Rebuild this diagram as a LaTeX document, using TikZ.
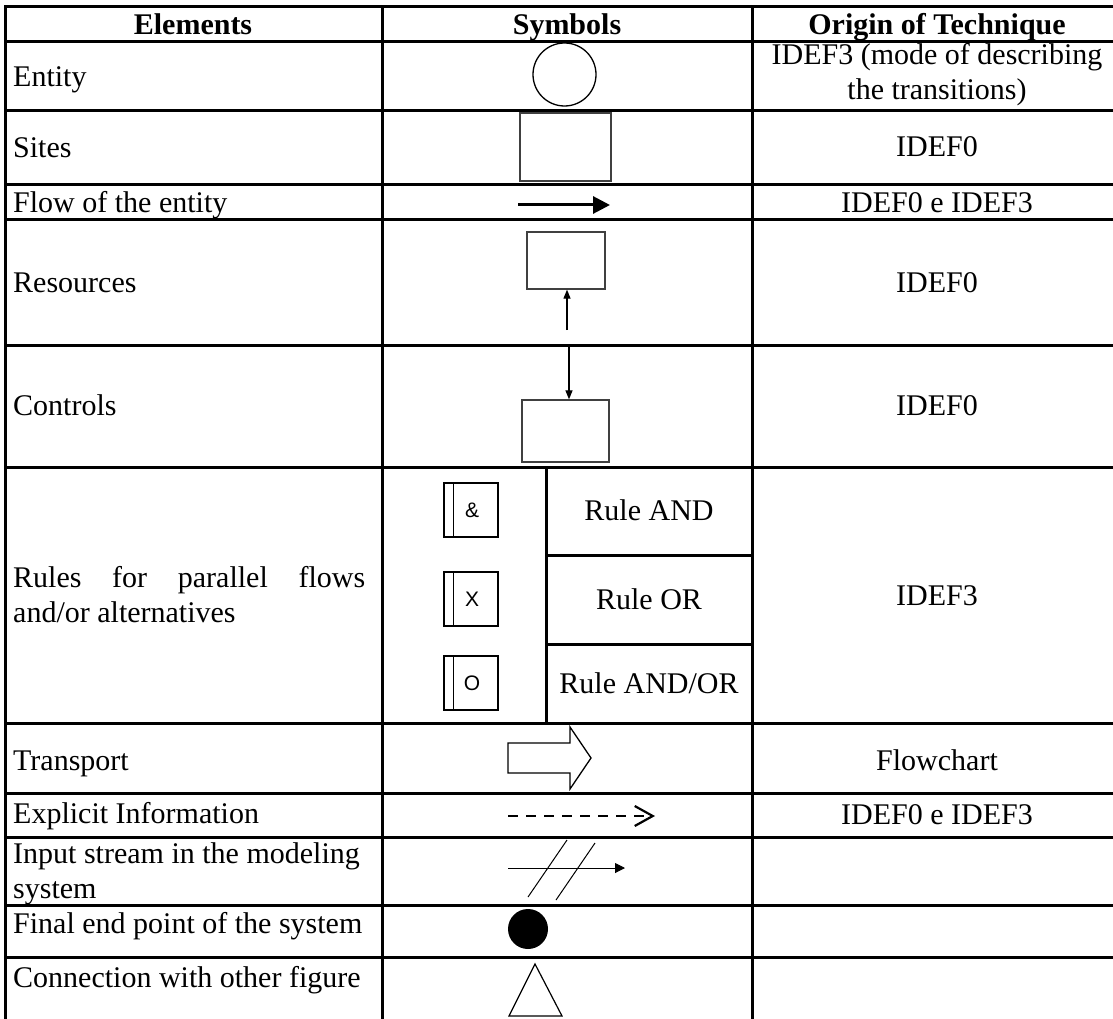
\documentclass[tikz,border=0pt]{standalone}
\usepackage{fontspec}
\setmainfont{Liberation Serif}
\newfontfamily\arialfont{Liberation Sans}
\usetikzlibrary{arrows.meta}
\begin{document}
\begin{tikzpicture}[x=1pt,y=-1pt,
  gridline/.style={line width=3pt, line cap=rect},
  txt/.style={inner sep=0pt, font={\fontsize{30pt}{35pt}\selectfont}},
  lefttxt/.style={txt, anchor=base west},
  ctxt/.style={txt, anchor=base},
  hdr/.style={inner sep=0pt, anchor=base, font={\fontsize{30pt}{35pt}\selectfont\bfseries}},
  symbox/.style={draw=black!75, line width=1.3pt, rectangle, inner sep=0pt},
  rulebox/.style={draw=black, line width=1.3pt, rectangle, inner sep=0pt, minimum width=54pt, minimum height=54pt},
  rulelet/.style={inner sep=0pt, font={\arialfont\fontsize{21pt}{24pt}\selectfont}},
  thinline/.style={draw=black, line width=1.2pt},
]
\useasboundingbox (0,0) rectangle (1113,1019);
\fill[white] (0,0) rectangle (1113,1019);
\clip (0,0) rectangle (1113,1019);

% ---------- table grid ----------
\draw[gridline] (5,7) rectangle (1122,1022);
\foreach \yy in {42,111,185,219,345,467,723,793,837,905,957}
  \draw[gridline] (5,\yy) -- (1122,\yy);
\draw[gridline] (546,555) -- (752,555);
\draw[gridline] (546,644) -- (752,644);
\draw[gridline] (382,7) -- (382,1022);
\draw[gridline] (752,7) -- (752,1022);
\draw[gridline] (546,467) -- (546,723);

% ---------- header ----------
\node[hdr] (hElem) at (193,35) {Elements};
\node[hdr] (hSym) at (567,35) {Symbols};
\node[hdr] (hOrig) at (937,35) {Origin of Technique};

% ---------- left column ----------
\node[lefttxt] (eEntity) at (13,87) {Entity};
\node[lefttxt] (eSites) at (13,158) {Sites};
\node[lefttxt] (eFlow) at (13,212) {Flow of the entity};
\node[lefttxt] (eRes) at (13,292) {Resources};
\node[lefttxt] (eCtrl) at (13,415) {Controls};
\node[lefttxt] (eRules) at (13,587) {\begin{tabular}[t]{@{}l@{}}\makebox[352pt][s]{Rules for parallel flows}\\and/or alternatives\end{tabular}};
\node[lefttxt] (eTrans) at (13,770) {Transport};
\node[lefttxt] (eExp) at (13,823) {Explicit Information};
\node[lefttxt] (eInput) at (13,863) {\begin{tabular}[t]{@{}l@{}}Input stream in the modeling\\system\end{tabular}};
\node[lefttxt] (eFinal) at (13,933) {Final end point of the system};
\node[lefttxt] (eConn) at (13,987) {Connection with other figure};

% ---------- right column ----------
\node[ctxt] (oEntity) at (937,65) {\begin{tabular}[t]{@{}c@{}}IDEF3 (mode of describing\\the transitions)\end{tabular}};
\node[ctxt] (oSites) at (937,157) {IDEF0};
\node[ctxt] (oFlow) at (937,212) {IDEF0 e IDEF3};
\node[ctxt] (oRes) at (937,292) {IDEF0};
\node[ctxt] (oCtrl) at (937,415) {IDEF0};
\node[ctxt] (oRules) at (937,605) {IDEF3};
\node[ctxt] (oTrans) at (937,770) {Flowchart};
\node[ctxt] (oExp) at (937,824) {IDEF0 e IDEF3};

% ---------- symbols ----------
% Entity
\node[draw=black, line width=1.3pt, circle, minimum size=63pt, inner sep=0pt] (sEntity) at (564.5,74.5) {};
% Sites
\node[symbox, minimum width=91pt, minimum height=68pt] (sSites) at (565.5,147) {};
% Flow of the entity
\coordinate (flowA) at (518,205);
\coordinate (flowB) at (610,205);
\draw[line width=3pt, -{Triangle[length=17pt,width=17pt]}] (flowA) -- (flowB);
% Resources
\node[symbox, minimum width=78pt, minimum height=57pt] (sRes) at (566,260.5) {};
\coordinate (resFoot) at (567,330);
\draw[thinline, -{Triangle[length=9pt,width=7pt]}] (resFoot) -- (resFoot |- sRes.south);
% Controls
\node[symbox, minimum width=87pt, minimum height=62pt] (sCtrl) at (565.5,431) {};
\coordinate (ctrlTop) at (569,345);
\draw[thinline, -{Triangle[length=9pt,width=7pt]}] (ctrlTop) -- (ctrlTop |- sCtrl.north);
% Rules
\foreach \nm/\yy/\lt in {ruleAnd/510/\&, ruleOr/599/X, ruleAndOr/683/O}{
  \node[rulebox] (\nm) at (471,\yy) {};
  \draw[line width=1.3pt] ([xshift=10pt]\nm.north west) -- ([xshift=10pt]\nm.south west);
  \node[rulelet] (\nm L) at (472,\yy) {\lt};
}
\node[ctxt] (rAnd) at (649,520) {Rule AND};
\node[ctxt] (rOr) at (649,609) {Rule OR};
\node[ctxt] (rAndOr) at (649,693) {Rule AND/OR};
% Transport
\draw[line width=1.3pt, line join=miter] (508,743) -- (570,743) -- (570,727) -- (591,758) -- (570,789) -- (570,773) -- (508,773) -- cycle;
% Explicit information
\coordinate (expA) at (508,816);
\coordinate (expB) at (655,816);
\draw[line width=2.2pt, dash pattern=on 10pt off 8pt, -{Straight Barb[length=18pt,width=20pt,line width=2.2pt]}] (expA) -- (expB);
% Input stream
\coordinate (inA) at (508,868);
\coordinate (inB) at (625,868);
\draw[line width=1pt, -{Triangle[length=10pt,width=10pt]}] (inA) -- (inB);
\draw[line width=1pt] (528,897) -- (567,840);
\draw[line width=1pt] (556,900) -- (595,843);
% Final end point
\node[fill=black, circle, minimum size=40pt, inner sep=0pt] (sFinal) at (528,929) {};
% Connection
\draw[line width=1.2pt] (535,964) -- (562,1016) -- (509,1016) -- cycle;
\end{tikzpicture}
\end{document}
